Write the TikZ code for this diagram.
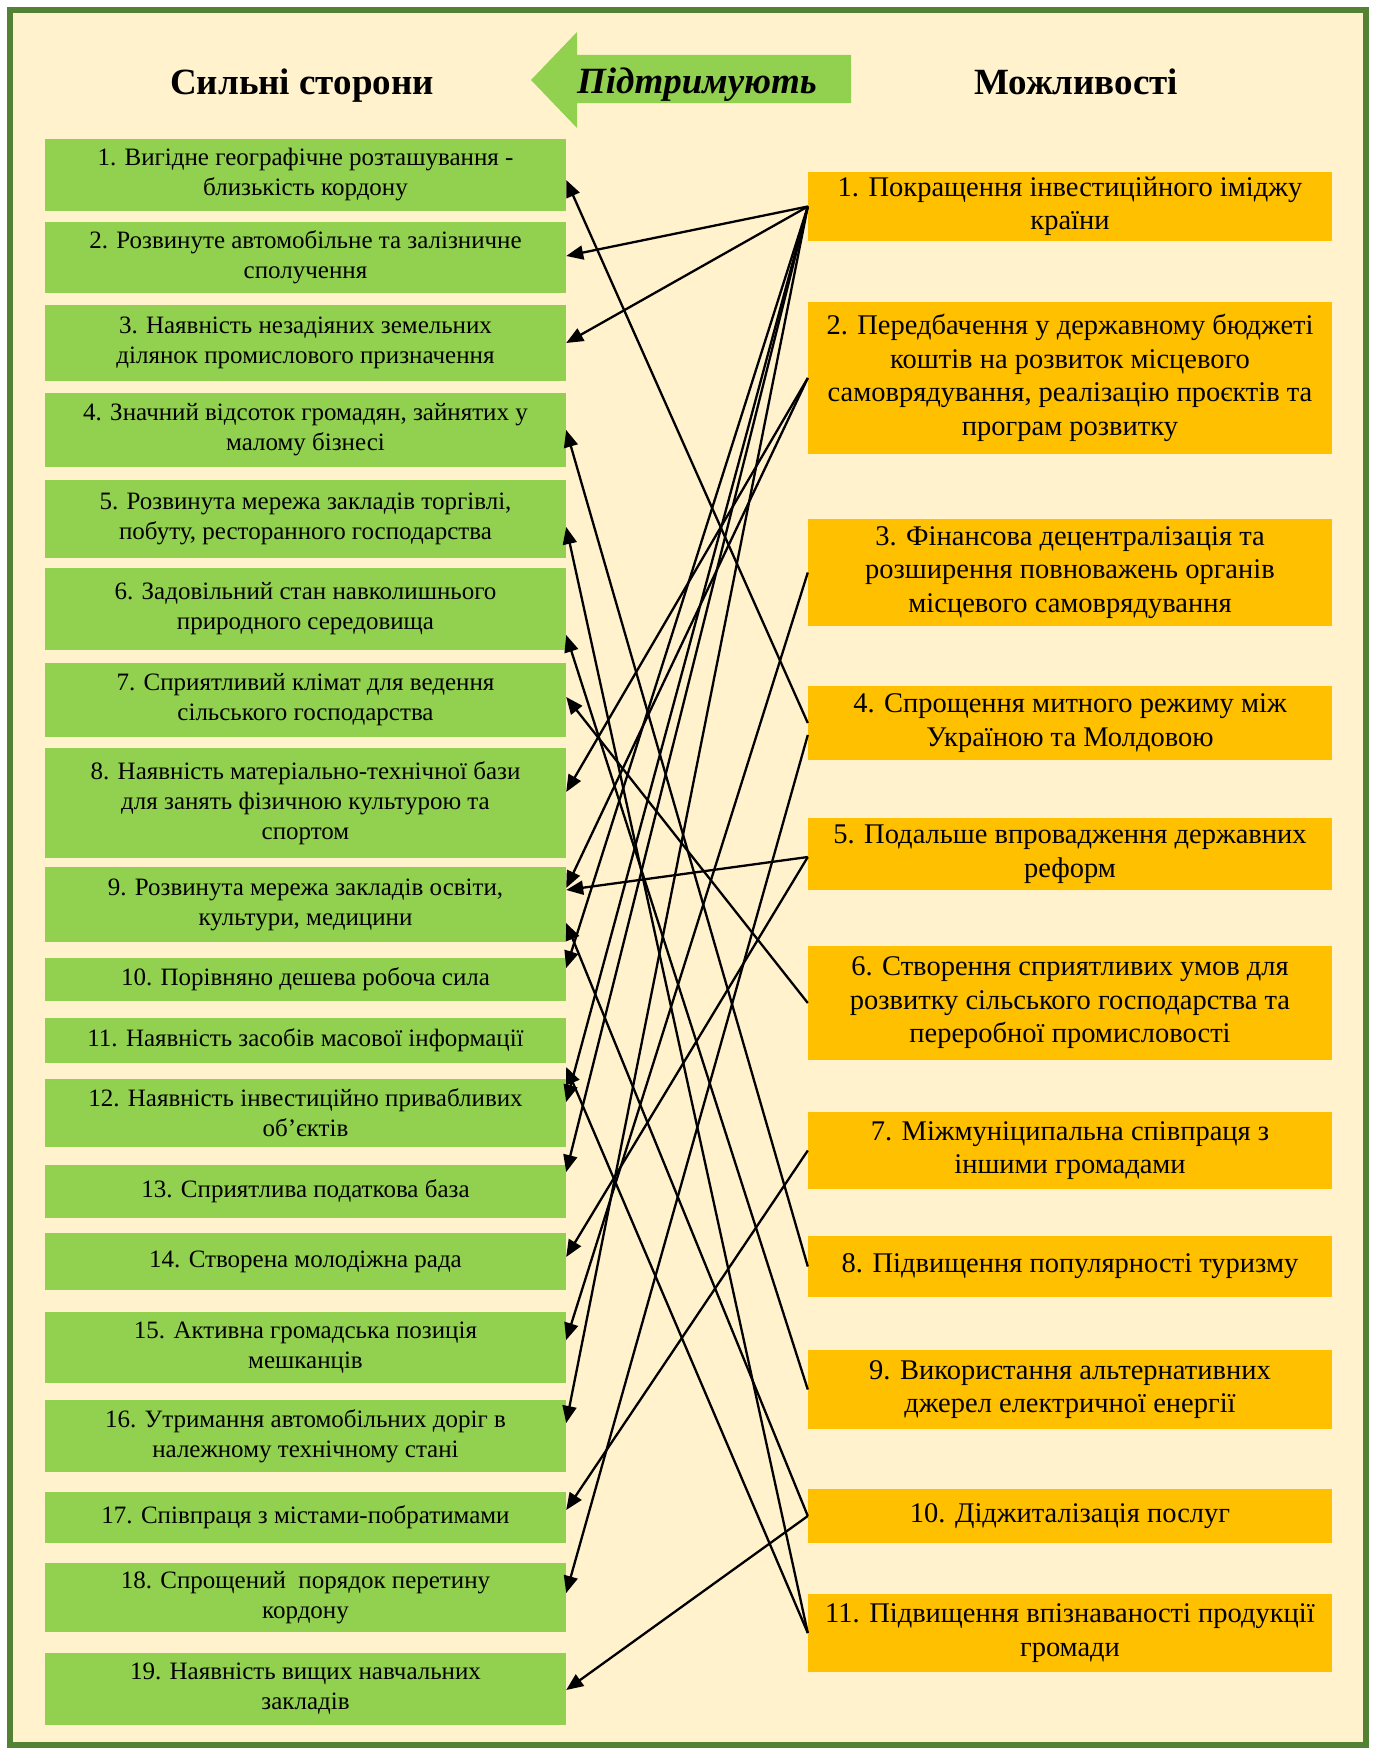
\documentclass[tikz,border=0pt]{standalone}
\usepackage{fontspec}
\setmainfont{Liberation Serif}
\usetikzlibrary{arrows.meta}
\definecolor{frameg}{RGB}{84,130,53}
\definecolor{cream}{RGB}{255,242,204}
\definecolor{lgreen}{RGB}{146,208,80}
\definecolor{gold}{RGB}{255,192,0}
\begin{document}
\begin{tikzpicture}[x=1pt,y=-1pt,
  lbox/.style={fill=lgreen, draw=none, minimum width=521pt, inner sep=0pt, align=center,
     font=\fontsize{25}{30}\selectfont},
  rbox/.style={fill=gold, draw=none, minimum width=524pt, inner sep=0pt, align=center,
     font=\fontsize{28.5}{33.5}\selectfont},
  head/.style={font=\fontsize{37}{40}\selectfont\bfseries, anchor=base},
  conn/.style={draw=black, line width=2.3pt, -{Triangle[length=17pt,width=14pt]}}
]
\useasboundingbox (0,0) rectangle (1376,1753);
\fill[white] (0,0) rectangle (1376,1753);
\draw[frameg, line width=6pt, fill=cream] (10,10) rectangle (1366,1745);

% header
\node[head] (hs) at (302,95) {Сильні сторони};
\node[head] (ho) at (1076,95) {Можливості};
\fill[lgreen] (531,80) -- (577,32) -- (577,55) -- (851,55) -- (851,103) -- (577,103) -- (577,128) -- cycle;
\node[head, font=\fontsize{37}{40}\selectfont\bfseries\itshape] (sup) at (697,93) {Підтримують};

% left boxes
\node[lbox, minimum height=72pt] (l1) at (305.5,175) {1. Вигідне географічне розташування -\\близькість кордону};
\node[lbox, minimum height=71pt] (l2) at (305.5,257.5) {2. Розвинуте автомобільне та залізничне\\сполучення};
\node[lbox, minimum height=76pt] (l3) at (305.5,343) {3. Наявність незадіяних земельних\\ділянок промислового призначення};
\node[lbox, minimum height=74pt] (l4) at (305.5,430) {4. Значний відсоток громадян, зайнятих у\\малому бізнесі};
\node[lbox, minimum height=78pt] (l5) at (305.5,519) {5. Розвинута мережа закладів торгівлі,\\побуту, ресторанного господарства};
\node[lbox, minimum height=82pt] (l6) at (305.5,609) {6. Задовільний стан навколишнього\\природного середовища};
\node[lbox, minimum height=74pt] (l7) at (305.5,700) {7. Сприятливий клімат для ведення\\сільського господарства};
\node[lbox, minimum height=110pt] (l8) at (305.5,803) {8. Наявність матеріально-технічної бази\\для занять фізичною культурою та\\спортом};
\node[lbox, minimum height=75pt] (l9) at (305.5,904.5) {9. Розвинута мережа закладів освіти,\\культури, медицини};
\node[lbox, minimum height=43pt] (l10) at (305.5,979.5) {10. Порівняно дешева робоча сила};
\node[lbox, minimum height=45pt] (l11) at (305.5,1040.5) {11. Наявність засобів масової інформації};
\node[lbox, minimum height=68pt] (l12) at (305.5,1113) {12. Наявність інвестиційно привабливих\\об’єктів};
\node[lbox, minimum height=53pt] (l13) at (305.5,1191.5) {13. Сприятлива податкова база};
\node[lbox, minimum height=57pt] (l14) at (305.5,1261.5) {14. Створена молодіжна рада};
\node[lbox, minimum height=71pt] (l15) at (305.5,1347.5) {15. Активна громадська позиція\\мешканців};
\node[lbox, minimum height=72pt] (l16) at (305.5,1436) {16. Утримання автомобільних доріг в\\належному технічному стані};
\node[lbox, minimum height=51pt] (l17) at (305.5,1517.5) {17. Співпраця з містами-побратимами};
\node[lbox, minimum height=69pt] (l18) at (305.5,1597.5) {18. Спрощений\ \ порядок перетину\\кордону};
\node[lbox, minimum height=72pt] (l19) at (305.5,1689) {19. Наявність вищих навчальних\\закладів};

% right boxes
\node[rbox, minimum height=69pt] (r1) at (1070,206.5) {1. Покращення інвестиційного іміджу\\країни};
\node[rbox, minimum height=152pt] (r2) at (1070,378) {2. Передбачення у державному бюджеті\\коштів на розвиток місцевого\\самоврядування, реалізацію проєктів та\\програм розвитку};
\node[rbox, minimum height=107pt] (r3) at (1070,572.5) {3. Фінансова децентралізація та\\розширення повноважень органів\\місцевого самоврядування};
\node[rbox, minimum height=74pt] (r4) at (1070,723) {4. Спрощення митного режиму між\\Україною та Молдовою};
\node[rbox, minimum height=72pt] (r5) at (1070,854) {5. Подальше впровадження державних\\реформ};
\node[rbox, minimum height=114pt] (r6) at (1070,1003) {6. Створення сприятливих умов для\\розвитку сільського господарства та\\переробної промисловості};
\node[rbox, minimum height=77pt] (r7) at (1070,1150.5) {7. Міжмуніципальна співпраця з\\іншими громадами};
\node[rbox, minimum height=61pt] (r8) at (1070,1266.5) {8. Підвищення популярності туризму};
\node[rbox, minimum height=79pt] (r9) at (1070,1389.5) {9. Використання альтернативних\\джерел електричної енергії};
\node[rbox, minimum height=54pt] (r10) at (1070,1516) {10. Діджиталізація послуг};
\node[rbox, minimum height=78pt] (r11) at (1070,1633) {11. Підвищення впізнаваності продукції\\громади};

% connectors (arrow at the strengths)
\draw[conn] (r1.west) -- ([yshift=1.5pt]l2.east);
\draw[conn] (r1.west) -- (l3.east);
\draw[conn] (r1.west) -- ([yshift=11.5pt]l10.east);
\draw[conn] (r1.west) -- ([yshift=11pt]l12.east);
\draw[conn] (r1.west) -- ([yshift=19.5pt]l13.east);
\draw[conn] (r1.west) -- ([yshift=13pt]l16.east);
\draw[conn] (r2.west) -- ([yshift=11pt]l8.east);
\draw[conn] (r2.west) -- ([yshift=16.5pt]l9.east);
\draw[conn] (r3.west) -- ([yshift=7.5pt]l15.east);
\draw[conn] (r4.west) -- ([yshift=-5pt]l1.east);
\draw[conn] ([yshift=-12pt]r4.west) -- ([yshift=4.5pt]l18.east);
\draw[conn] ([yshift=-3pt]r5.west) -- ([yshift=14.5pt]l9.east);
\draw[conn] ([yshift=-3pt]r5.west) -- ([yshift=4.5pt]l14.east);
\draw[conn] (r6.west) -- ([yshift=3pt]l7.east);
\draw[conn] (r7.west) -- ([yshift=7.5pt]l17.east);
\draw[conn] (r8.west) -- (l4.east);
\draw[conn] (r9.west) -- ([yshift=-26pt]l6.east);
\draw[conn] (r10.west) -- ([yshift=-18.5pt]l9.east);
\draw[conn] (r10.west) -- ([yshift=-1pt]l19.east);
\draw[conn] (r11.west) -- ([yshift=-8pt]l5.east);
\draw[conn] (r11.west) -- ([yshift=-26.5pt]l11.east);
\end{tikzpicture}
\end{document}
